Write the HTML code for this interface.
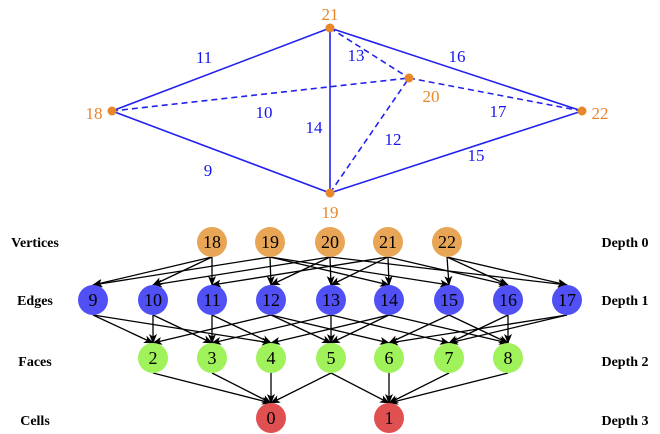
<!DOCTYPE html>
<html><head><meta charset="utf-8"><style>
html,body{margin:0;padding:0;background:#fff;}
svg{display:block;}
</style></head><body>
<svg width="660" height="434" viewBox="0 0 660 434" xmlns="http://www.w3.org/2000/svg" font-family="Liberation Serif, serif">
<defs>
<marker id="a" markerWidth="10" markerHeight="8" refX="9" refY="4" orient="auto" markerUnits="userSpaceOnUse">
<path d="M0,0 L10,4 L0,8 L2.5,4 Z" fill="#000"/>
</marker>
</defs>
<g stroke="#2222ee" stroke-width="1.6" fill="none">
<line x1="112" y1="111" x2="330" y2="28"/>
<line x1="112" y1="111" x2="330" y2="193"/>
<line x1="330" y1="28" x2="330" y2="193"/>
<line x1="330" y1="28" x2="582" y2="111"/>
<line x1="330" y1="193" x2="582" y2="111"/>
<g stroke-dasharray="6,4">
<line x1="112" y1="111" x2="409" y2="78"/>
<line x1="330" y1="28" x2="409" y2="78"/>
<line x1="330" y1="193" x2="409" y2="78"/>
<line x1="409" y1="78" x2="582" y2="111"/>
</g>
</g>
<g fill="#e8862a">
<circle cx="330" cy="28" r="4.5"/><circle cx="112" cy="111" r="4.5"/><circle cx="409" cy="78" r="4.5"/><circle cx="582" cy="111" r="4.5"/><circle cx="330" cy="193" r="4.5"/>
</g>
<g fill="#e8862a" font-size="17" text-anchor="middle">
<text x="330" y="20">21</text><text x="94" y="119">18</text><text x="431" y="102">20</text><text x="600" y="119">22</text><text x="330" y="218">19</text>
</g>
<g fill="#1515ee" font-size="17" text-anchor="middle">
<text x="204" y="63">11</text><text x="356" y="61">13</text><text x="457" y="62">16</text><text x="264" y="118">10</text><text x="314" y="133">14</text><text x="498" y="117">17</text><text x="393" y="145">12</text><text x="476" y="161">15</text><text x="208" y="176">9</text>
</g>
<g font-size="14" font-weight="bold" text-anchor="middle" fill="#000">
<text x="35" y="247">Vertices</text><text x="35" y="305">Edges</text><text x="35" y="366">Faces</text><text x="35" y="425">Cells</text>
<text x="625" y="247">Depth 0</text><text x="625" y="305">Depth 1</text><text x="625" y="366">Depth 2</text><text x="625" y="425">Depth 3</text>
</g>
<g stroke="#000" stroke-width="1.3" marker-end="url(#a)">
<line x1="212" y1="257" x2="93" y2="285"/><line x1="212" y1="257" x2="153" y2="285"/><line x1="212" y1="257" x2="212" y2="285"/>
<line x1="270" y1="257" x2="93" y2="285"/><line x1="270" y1="257" x2="271" y2="285"/><line x1="270" y1="257" x2="389" y2="285"/><line x1="270" y1="257" x2="449" y2="285"/>
<line x1="330" y1="257" x2="153" y2="285"/><line x1="330" y1="257" x2="271" y2="285"/><line x1="330" y1="257" x2="331" y2="285"/><line x1="330" y1="257" x2="567" y2="285"/>
<line x1="388" y1="257" x2="212" y2="285"/><line x1="388" y1="257" x2="331" y2="285"/><line x1="388" y1="257" x2="389" y2="285"/><line x1="388" y1="257" x2="508" y2="285"/>
<line x1="447" y1="257" x2="449" y2="285"/><line x1="447" y1="257" x2="508" y2="285"/><line x1="447" y1="257" x2="567" y2="285"/>

<line x1="93" y1="315" x2="153" y2="343"/><line x1="93" y1="315" x2="271" y2="343"/>
<line x1="153" y1="315" x2="153" y2="343"/><line x1="153" y1="315" x2="212" y2="343"/>
<line x1="212" y1="315" x2="212" y2="343"/><line x1="212" y1="315" x2="271" y2="343"/>
<line x1="271" y1="315" x2="153" y2="343"/><line x1="271" y1="315" x2="331" y2="343"/><line x1="271" y1="315" x2="389" y2="343"/>
<line x1="331" y1="315" x2="212" y2="343"/><line x1="331" y1="315" x2="331" y2="343"/><line x1="331" y1="315" x2="449" y2="343"/>
<line x1="389" y1="315" x2="271" y2="343"/><line x1="389" y1="315" x2="331" y2="343"/><line x1="389" y1="315" x2="508" y2="343"/>
<line x1="449" y1="315" x2="389" y2="343"/><line x1="449" y1="315" x2="508" y2="343"/>
<line x1="508" y1="315" x2="449" y2="343"/><line x1="508" y1="315" x2="508" y2="343"/>
<line x1="567" y1="315" x2="389" y2="343"/><line x1="567" y1="315" x2="449" y2="343"/>

<line x1="153" y1="373" x2="271" y2="403"/><line x1="212" y1="373" x2="271" y2="403"/><line x1="271" y1="373" x2="271" y2="403"/><line x1="331" y1="373" x2="271" y2="403"/>
<line x1="331" y1="373" x2="389" y2="403"/><line x1="389" y1="373" x2="389" y2="403"/><line x1="449" y1="373" x2="389" y2="403"/><line x1="508" y1="373" x2="389" y2="403"/>
</g>
<g fill="#e8a555">
<circle cx="212" cy="242" r="15"/><circle cx="270" cy="242" r="15"/><circle cx="330" cy="242" r="15"/><circle cx="388" cy="242" r="15"/><circle cx="447" cy="242" r="15"/>
</g>
<g fill="#5050f5">
<circle cx="93" cy="300" r="15"/><circle cx="153" cy="300" r="15"/><circle cx="212" cy="300" r="15"/><circle cx="271" cy="300" r="15"/><circle cx="331" cy="300" r="15"/><circle cx="389" cy="300" r="15"/><circle cx="449" cy="300" r="15"/><circle cx="508" cy="300" r="15"/><circle cx="567" cy="300" r="15"/>
</g>
<g fill="#a0f25a">
<circle cx="153" cy="358" r="15"/><circle cx="212" cy="358" r="15"/><circle cx="271" cy="358" r="15"/><circle cx="331" cy="358" r="15"/><circle cx="389" cy="358" r="15"/><circle cx="449" cy="358" r="15"/><circle cx="508" cy="358" r="15"/>
</g>
<g fill="#e05050">
<circle cx="271" cy="418" r="15"/><circle cx="389" cy="418" r="15"/>
</g>
<g font-size="18" text-anchor="middle" fill="#000">
<text x="212" y="248">18</text><text x="270" y="248">19</text><text x="330" y="248">20</text><text x="388" y="248">21</text><text x="447" y="248">22</text>
<text x="93" y="306">9</text><text x="153" y="306">10</text><text x="212" y="306">11</text><text x="271" y="306">12</text><text x="331" y="306">13</text><text x="389" y="306">14</text><text x="449" y="306">15</text><text x="508" y="306">16</text><text x="567" y="306">17</text>
<text x="153" y="364">2</text><text x="212" y="364">3</text><text x="271" y="364">4</text><text x="331" y="364">5</text><text x="389" y="364">6</text><text x="449" y="364">7</text><text x="508" y="364">8</text>
<text x="271" y="424">0</text><text x="389" y="424">1</text>
</g>
</svg>
</body></html>
